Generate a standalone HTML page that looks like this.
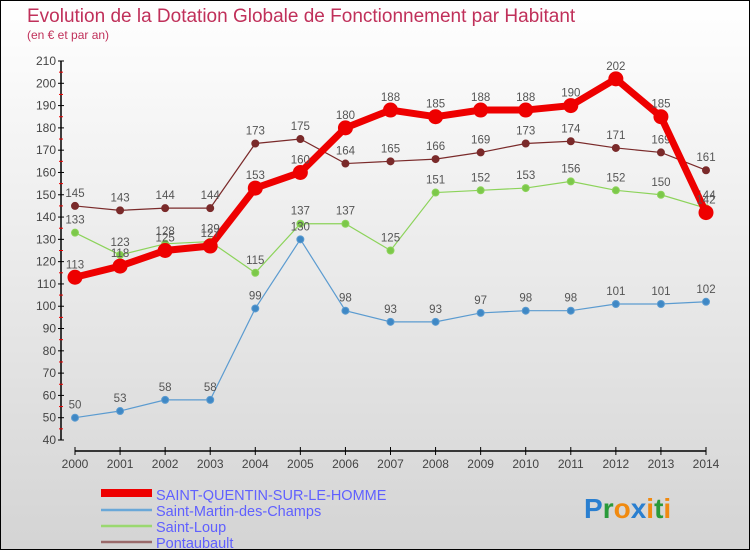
<!DOCTYPE html>
<html><head><meta charset="utf-8"><style>
body{margin:0}
#c{width:748px;height:548px;border:1px solid #000;background:linear-gradient(#fff,#d4d4d4);position:relative;font-family:"Liberation Sans",sans-serif}
</style></head><body>
<div id="c">
<svg id="s" width="748" height="548" style="position:absolute;left:0;top:0">
<text x="26" y="21" font-size="19" fill="#c0305a">Evolution de la Dotation Globale de Fonctionnement par Habitant</text>
<text x="26" y="38" font-size="12" fill="#c0305a">(en € et par an)</text>
</svg>
</div>
<script>
const years=[2000,2001,2002,2003,2004,2005,2006,2007,2008,2009,2010,2011,2012,2013,2014];
const sq=[113,118,125,127,153,160,180,188,185,188,188,190,202,185,142];
const sm=[50,53,58,58,99,130,98,93,93,97,98,98,101,101,102];
const sl=[133,123,128,129,115,137,137,125,151,152,153,156,152,150,144];
const pt=[145,143,144,144,173,175,164,165,166,169,173,174,171,169,161];
const yTicks=[40,50,60,70,80,90,100,110,120,130,140,150,160,170,180,190,200,210];
const names=["SAINT-QUENTIN-SUR-LE-HOMME","Saint-Martin-des-Champs","Saint-Loup","Pontaubault"];
const s=document.getElementById('s');const NS="http://www.w3.org/2000/svg";
const X=i=>74+i*(631/14);const Y=v=>439-(v-40)*(379/170);
function el(t,a,p){const e=document.createElementNS(NS,t);for(const k in a)e.setAttribute(k,a[k]);(p||s).appendChild(e);return e;}
let ax=el('line',{x1:60,y1:Y(210),x2:60,y2:Y(40),stroke:'#000','stroke-width':1.5});

yTicks.forEach(v=>{el('line',{x1:57,x2:63,y1:Y(v),y2:Y(v),stroke:'#000'});
if(v<210)el('line',{x1:58,x2:62,y1:Y(v+5),y2:Y(v+5),stroke:'#e00'});
const t=el('text',{x:55,y:Y(v)+4,'font-size':12,'text-anchor':'end',fill:'#444'});t.textContent=v;
});
let xa=el('line',{x1:X(0),y1:450,x2:X(14),y2:450,stroke:'#000','stroke-width':1.5});

years.forEach((y,i)=>{el('line',{x1:X(i),x2:X(i),y1:446,y2:454,stroke:'#000'});
const t=el('text',{x:X(i),y:467,'font-size':12,'text-anchor':'middle',fill:'#444'});t.textContent=y;
});
function series(d,col,lw,r,fill,nm){
const g=el('g',{});
el('polyline',{points:d.map((v,i)=>X(i)+','+Y(v)).join(' '),fill:'none',stroke:col,'stroke-width':lw},g);
d.forEach((v,i)=>{const c=el('circle',{cx:X(i),cy:Y(v),r:r,fill:fill,stroke:col},g);

const t=el('text',{x:X(i),y:Y(v)-9,'font-size':11.5,'text-anchor':'middle',fill:'#555'},g);t.textContent=v;});}
series(pt,'#7a2a2a',1.2,3.5,'#7a2a2a','series-pontaubault');
series(sl,'#8cd35a',1.2,3.5,'#7cc84a','series-saint-loup');
series(sm,'#5b9bd0',1.2,3.5,'#3f88c5','series-saint-martin');
series(sq,'#ee0000',7,7,'#ee0000','series-saint-quentin');
const cols=['#ee0000','#6aa8d8','#9ad870','#9a6a6a'],lws=[8,2.5,2.5,2.5];
names.forEach((n,i)=>{const y=493+i*16;const g=el('g',{});

el('line',{x1:100,x2:151,y1:y+(i?0:-1),y2:y+(i?0:-1),stroke:cols[i],'stroke-width':lws[i]},g);
const t=el('text',{x:155,y:y+6,'font-size':14.5,fill:'#6060ff'},g);t.textContent=n;});
const lg=el('text',{x:583,y:517,'font-size':28,'font-weight':'bold'});

[['P','#2a7fd0'],['r','#2a9a3a'],['o','#f08a10'],['x','#2a7fd0'],['i','#f08a10'],['t','#2a9a3a'],['i','#f08a10']].forEach(([c,f])=>{const sp=el('tspan',{fill:f},lg);sp.textContent=c;});
</script>
</body></html>
